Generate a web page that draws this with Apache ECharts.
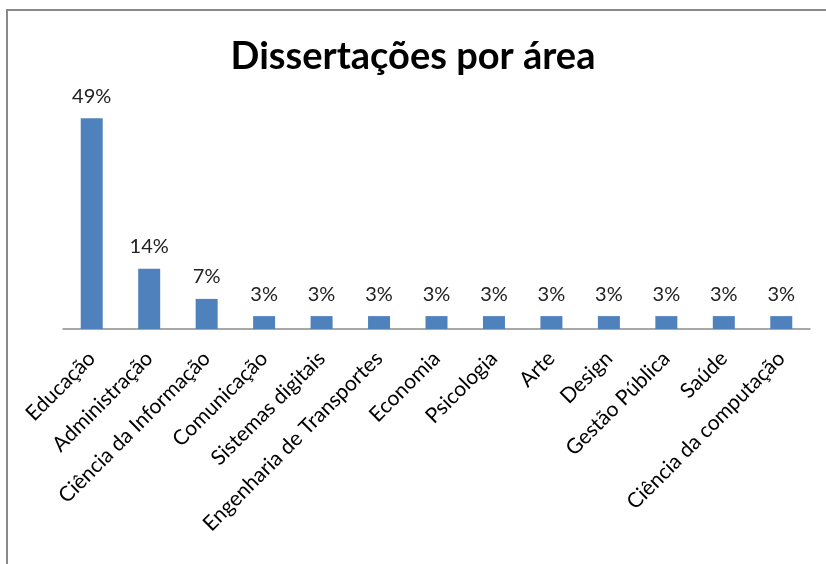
<!DOCTYPE html>
<html>
<head>
<meta charset="utf-8">
<script src="https://cdn.jsdelivr.net/npm/echarts@6/dist/echarts.min.js"></script>
<style>
  html, body { margin: 0; padding: 0; background: #fff; overflow: hidden; }
  #frame { position: absolute; left: 6px; top: 9px; width: 840px; height: 580px; border: 2px solid #8a8a8a; box-sizing: border-box; }
  #box { position: absolute; left: 0; top: 0; width: 826px; height: 564px; }
</style>
</head>
<body>
<div id="frame"></div>
<div id="box"></div>
<script>
var categories = ['Educação', 'Administração', 'Ciência da Informação', 'Comunicação', 'Sistemas digitais',
  'Engenharia de Transportes', 'Economia', 'Psicologia', 'Arte', 'Design', 'Gestão Pública', 'Saúde',
  'Ciência da computação'];
var values = [49, 14, 7, 3, 3, 3, 3, 3, 3, 3, 3, 3, 3];

var myChart = echarts.init(document.getElementById('box'));
var option = {
  backgroundColor: 'transparent',
  title: {
    text: 'Dissertações por área',
    left: 'center',
    top: 33,
    textStyle: { fontFamily: 'Lato', fontWeight: 'bold', fontSize: 38, color: '#000' }
  },
  grid: { left: 63, right: 16, top: 71, bottom: 235, containLabel: false },
  xAxis: {
    type: 'category',
    data: categories,
    axisLine: { lineStyle: { color: '#8c8c8c', width: 1.5 } },
    axisTick: { show: false },
    axisLabel: {
      interval: 0,
      rotate: 45,
      margin: 26,
      fontFamily: 'Lato',
      fontSize: 21,
      color: '#000'
    }
  },
  yAxis: {
    type: 'value',
    min: 0,
    max: 60,
    show: false,
    splitLine: { show: false }
  },
  series: [{
    type: 'bar',
    data: values,
    barWidth: 22,
    itemStyle: { color: '#4f81bd' },
    label: {
      show: true,
      position: 'top',
      distance: 12,
      formatter: '{c}%',
      fontFamily: 'Lato',
      fontSize: 20,
      color: '#222'
    }
  }]
};
myChart.setOption(option);
</script>
</body>
</html>
